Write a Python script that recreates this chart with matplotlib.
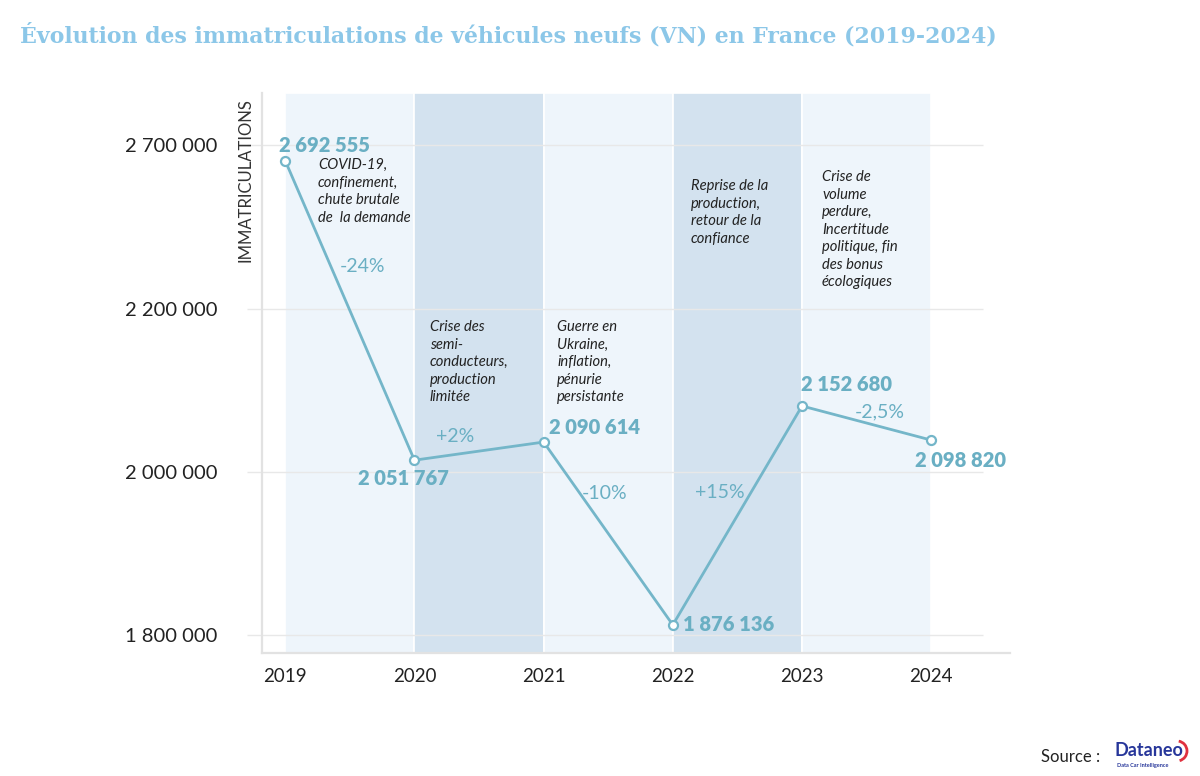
import numpy as np
import matplotlib
matplotlib.use("Agg")
import matplotlib.pyplot as plt
from matplotlib.patches import Arc
from matplotlib.transforms import IdentityTransform

# ---------------- data ----------------
years = [2019, 2020, 2021, 2022, 2023, 2024]
registrations = [2692555, 2051767, 2090614, 1876136, 2152680, 2098820]
registration_labels = ["2 692 555", "2 051 767", "2 090 614", "1 876 136", "2 152 680", "2 098 820"]
pct_labels = ["-24%", "+2%", "-10%", "+15%", "-2,5%"]
y_ticks = [1800000, 2000000, 2200000, 2700000]
y_tick_labels = ["1 800 000", "2 000 000", "2 200 000", "2 700 000"]
event_texts = [
    "COVID-19,\nconfinement,\nchute brutale\nde  la demande",
    "Crise des\nsemi-\nconducteurs,\nproduction\nlimitée",
    "Guerre en\nUkraine,\ninflation,\npénurie\npersistante",
    "Reprise de la\nproduction,\nretour de la\nconfiance",
    "Crise de\nvolume\nperdure,\nIncertitude\npolitique, fin\ndes bonus\nécologiques",
]
title = "Évolution des immatriculations de véhicules neufs (VN) en France (2019-2024)"
y_label = "IMMATRICULATIONS"

# The original infographic uses a non-linear (hand-drawn) value axis.
# Anchors: value -> display rank on the axis (ticks are evenly spaced).
scale_anchor_values = [1_000_000, 1_800_000, 1_876_136, 2_000_000, 2_051_767, 2_090_614,
                       2_098_820, 2_152_680, 2_200_000, 2_692_555, 2_700_000, 3_500_000]
scale_anchor_rank = [-4.0, 0.0, 0.062, 1.0, 1.071, 1.182, 1.194, 1.403, 2.0, 2.905, 3.0, 4.6]

# ---------------- style ----------------
LINE = "#74b6c9"
LABEL = "#6aafc3"
BAND_L = "#eef5fb"
BAND_D = "#d3e2ef"
GRID = "#e8e8e8"
TITLE_C = "#8cc7e8"
TXT = "#222222"
W, H = 1200, 776

plt.rcParams["font.family"] = ["Lato", "DejaVu Sans"]

fig = plt.figure(figsize=(W / 100, H / 100), dpi=100)
fig.patch.set_facecolor("white")


def fx(px):
    return px / W


def fy(py):
    return 1 - py / H


ax = fig.add_axes([fx(262), fy(653), (1010 - 262) / W, (653 - 93) / H])

av = np.array(scale_anchor_values, dtype=float)
ar = np.array(scale_anchor_rank, dtype=float)


def forward(v):
    return np.interp(v, av, ar)


def inverse(r):
    return np.interp(r, ar, av)


ax.set_yscale("function", functions=(forward, inverse))
ax.set_ylim(inverse(-0.11), inverse(3.32))
ax.set_xlim(2018.82, 2024.61)

# bands
band_colors = [BAND_L, BAND_D, BAND_L, BAND_D, BAND_L]
for y0, c in zip(years[:-1], band_colors):
    ax.axvspan(y0, y0 + 1, facecolor=c, edgecolor="white", linewidth=1.2, zorder=0)

# grid lines
ax.hlines(y_ticks, 2018.82, 2024.40, color=GRID, linewidth=1.0, zorder=1)

# line
ax.plot(years, registrations, color=LINE, linewidth=2.0, zorder=3,
        marker="o", markersize=6.5, markerfacecolor="white",
        markeredgecolor=LINE, markeredgewidth=1.6)

# data labels (offset in pixels from points)
label_offsets = [(-6, -15, "left"), (-11, 18, "center"), (5, -15, "left"),
                 (10, 0, "left"), (-1, -21, "left"), (29, 20, "center")]
for x, v, s, (dx, dy, ha) in zip(years, registrations, registration_labels, label_offsets):
    ax.annotate(s, (x, v), xytext=(dx, -dy), textcoords="offset pixels",
                ha=ha, va="center", fontsize=14.5, fontweight="heavy", color=LABEL, zorder=5)

# percentage labels
pct_pos = [(362, 266), (455, 437), (605, 494), (720, 492), (880, 412)]
for s, (px, py) in zip(pct_labels, pct_pos):
    fig.text(fx(px), fy(py), s, ha="center", va="center", fontsize=14, color=LABEL)

# event annotations
event_pos = [(318, 158), (430, 320), (557, 320), (691, 179), (822, 170)]
for s, (px, py) in zip(event_texts, event_pos):
    fig.text(fx(px), fy(py), s, ha="left", va="top", fontsize=10.6, style="italic",
             color=TXT, linespacing=1.32)

# axes styling
for side in ["top", "right"]:
    ax.spines[side].set_visible(False)
for side in ["left", "bottom"]:
    ax.spines[side].set_color("#e2e2e2")
    ax.spines[side].set_linewidth(1.6)
ax.set_yticks(y_ticks)
ax.set_yticklabels(y_tick_labels)
ax.yaxis.set_minor_locator(matplotlib.ticker.NullLocator())
ax.set_xticks(years)
ax.set_xticklabels([str(y) for y in years])
ax.tick_params(axis="y", direction="out", length=11, width=1.0, color=GRID,
               pad=21, labelsize=14.5, labelcolor=TXT)
ax.tick_params(axis="x", length=0, pad=11, labelsize=13.5, labelcolor=TXT)

fig.text(fx(245), fy(180), y_label, rotation=90, ha="center", va="center",
         fontsize=12, color="#333333", fontweight="normal")

# title, fitted to the reference width
t = fig.text(fx(20), fy(35), title, ha="left", va="center", fontsize=18,
             fontweight="bold", color=TITLE_C, family=["DejaVu Serif"])
fig.canvas.draw()
bb = t.get_window_extent()
t.set_fontsize(18 * 978 / bb.width)

# source
fig.text(fx(1100), fy(757), "Source :", ha="right", va="center", fontsize=12, color=TXT)
fig.text(fx(1115), fy(751), "Dataneo", ha="left", va="center", fontsize=13,
         fontweight="bold", color="#27369a")
fig.text(fx(1117), fy(766), "Data Car Intelligence", ha="left", va="center",
         fontsize=4, fontweight="bold", color="#27369a")
fig.add_artist(Arc((1177, H - 751), 20, 20, theta1=-75, theta2=80, color="#e0313f",
                   linewidth=2.0, transform=IdentityTransform()))

fig.savefig("out.png", dpi=100, facecolor="white")
